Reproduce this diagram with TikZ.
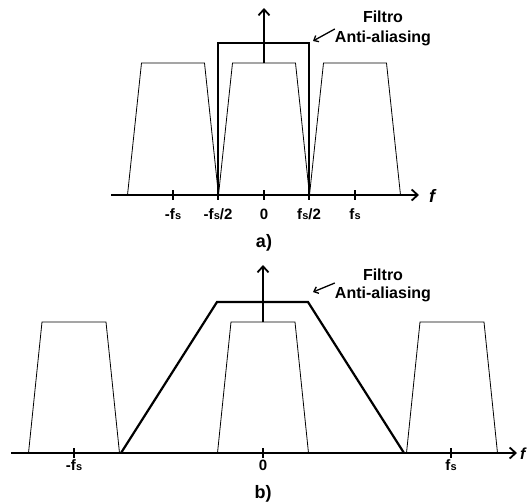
\documentclass[tikz,border=0pt]{standalone}
\usepackage{fontspec}
\setmainfont{Liberation Sans}
\usepackage{tikz}
\usetikzlibrary{arrows.meta,calc}
\newcommand{\fsym}{f\kern0.3pt{\fontsize{11}{11}\selectfont s}}

\begin{document}
\begin{tikzpicture}[x=1pt,y=-1pt,
    thinline/.style={draw=black, line width=0.8pt, line join=miter},
    filterline/.style={draw=black, line width=2.2pt, line join=miter},
    axisline/.style={draw=black, line width=1.7pt, -{Straight Barb[length=6pt,width=11pt,line width=1.8pt]}},
    ticklabel/.style={font=\fontsize{15}{15}\selectfont\bfseries, inner sep=0pt},
    caption/.style={font=\fontsize{18}{18}\selectfont\bfseries, inner sep=0pt}
    ]
    \useasboundingbox (0,0) rectangle (531,504);
    \tikzset{labeltext/.style={font=\fontsize{16}{16}\selectfont\bfseries, inner sep=0pt}}
    \tikzset{pointer/.style={draw=black, line width=1.3pt, -{Straight Barb[length=4pt,width=7pt]}}}
    %
    %part a
    %
    \coordinate (aleft) at (111,195);
    \coordinate (aright) at (419,195);
    \coordinate (azero) at (264,195);
    \coordinate (atop) at (264,8);
    \foreach \c in {-1,0,1}
        \draw[thinline] ($(azero)+(\c*91-45.5,0)$) -- ++(14,-132) -- ++(63,0) -- ++(14,132);
    \draw[filterline] (218,195) -- (218,43) -- (309,43) -- (309,195);
    \draw[axisline] ($(azero)+(0,-132)$) -- (atop);
    \draw[axisline] (aleft) -- (aright);
    \foreach \x/\name/\txt in {173/amfs/{-\fsym}, 218/amhalf/{-\fsym/2}, 264/azerol/0, 309/aphalf/{\fsym/2}, 355/apfs/{\fsym}}
    {
        \draw[line width=1.4pt] (\x,190) -- (\x,200);
        \node[ticklabel] (\name) at (\x,214) {\txt};
    }
    \node[font=\fontsize{18}{18}\selectfont\bfseries\itshape, inner sep=0pt] (af) at (432,196) {f};
    \node[caption] (acap) at (264,243) {a)};
    %filter label
    \node[labeltext] (afiltro) at (383,17) {Filtro};
    \node[labeltext] (aanti) at (383,38) {Anti-aliasing};
    \coordinate (atip) at (313,41);
    \draw[pointer] (aanti.west) ++(0,-9) -- (atip);
    %
    %part b
    %
    \coordinate (bleft) at (11,453);
    \coordinate (bright) at (517,453);
    \coordinate (bzero) at (263,453);
    \coordinate (btop) at (263,265);
    \foreach \c in {-1,0,1}
        \draw[thinline] ($(bzero)+(\c*189-45.5,0)$) -- ++(13.5,-131) -- ++(64,0) -- ++(13.5,131);
    \draw[filterline] (121,453) -- (217,302) -- (308,302) -- (404,453);
    \draw[axisline] ($(bzero)+(0,-131)$) -- (btop);
    \draw[axisline] (bleft) -- (bright);
    \foreach \x/\name/\txt in {74/bmfs/{-\fsym}, 263/bzerol/0, 451/bpfs/{\fsym}}
    {
        \draw[line width=1.4pt] (\x,448) -- (\x,458);
        \node[ticklabel] (\name) at (\x,465) {\txt};
    }
    \node[font=\fontsize{16}{16}\selectfont\bfseries\itshape, inner sep=0pt, anchor=west] (bf) at (520,454) {f};
    \node[caption] (bcap) at (263,494) {b)};
    %filter label
    \node[labeltext] (bfiltro) at (383,275) {Filtro};
    \node[labeltext] (banti) at (383,294) {Anti-aliasing};
    \coordinate (btip) at (313,292);
    \draw[pointer] (banti.west) ++(0,-11) -- (btip);
\end{tikzpicture}
\end{document}
